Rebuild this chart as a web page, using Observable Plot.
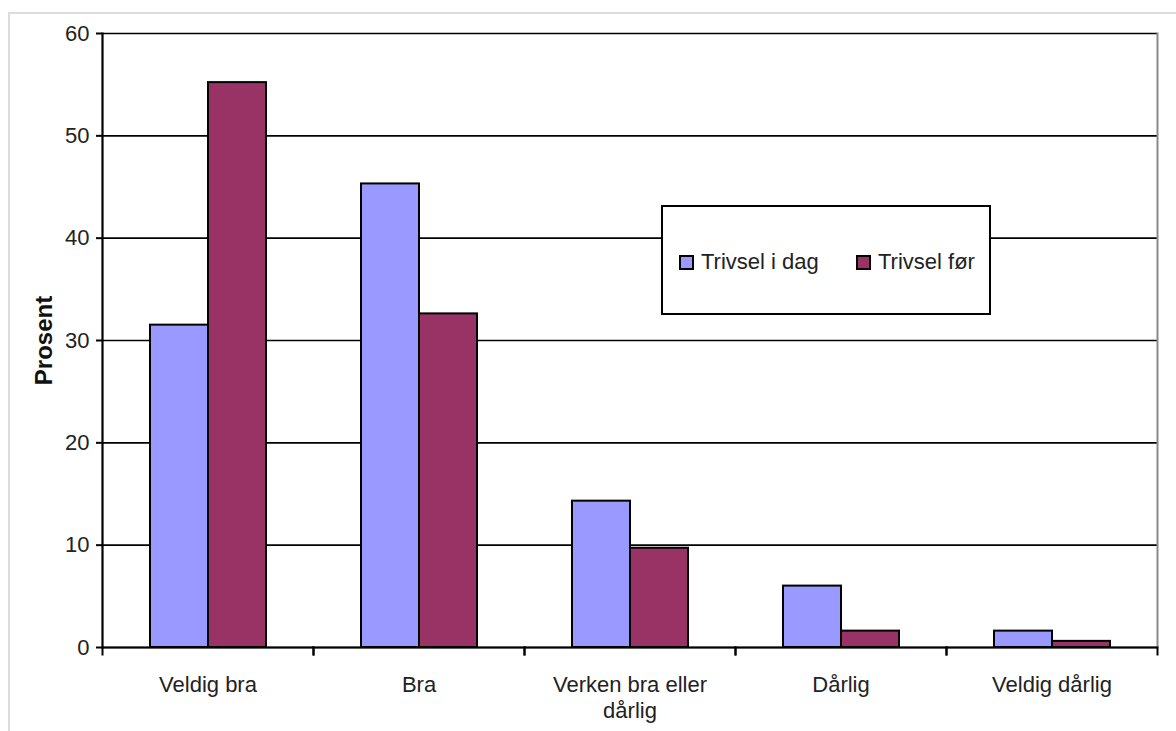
<!DOCTYPE html>
<html>
<head>
<meta charset="utf-8">
<script src="https://cdn.jsdelivr.net/npm/d3@7"></script>
<script src="https://cdn.jsdelivr.net/npm/@observablehq/plot@0.6"></script>
<style>
  html, body { margin: 0; padding: 0; background: #fff; }
  #wrap { position: relative; width: 1176px; height: 731px; overflow: hidden;
          font-family: "Liberation Sans", Arial, sans-serif; }
  #outer { position: absolute; left: 8px; top: 12px; width: 1300px; height: 900px; z-index: 5;
           pointer-events: none; border: 2px solid #dcdcdc; box-sizing: border-box; }
  #wrap svg { position: absolute; left: 0; top: 0; background: none; }
  g[aria-label="y-axis label"] text { font-weight: bold; font-size: 24px; fill: #111; }
  #legend { position: absolute; left: 661px; top: 205px; width: 330px; height: 110px; z-index: 4;
            border: 2px solid #000; box-sizing: border-box; background: #fff;
            font-size: 22px; color: #222; }
  .item { position: absolute; top: 42px; display: flex; align-items: center; white-space: nowrap; }
  .sw { width: 11px; height: 11px; border: 2px solid #000; margin-right: 7px; }
</style>
</head>
<body>
<div id="wrap">
  <div id="outer"></div>
  <div id="legend"></div>
</div>
<script>
const categories = ["Veldig bra", "Bra", "Verken bra eller dårlig", "Dårlig", "Veldig dårlig"];
const categoryLabels = ["Veldig bra", "Bra", "Verken bra eller\ndårlig", "Dårlig", "Veldig dårlig"];
const series = ["Trivsel i dag", "Trivsel før"];
const trivselIDag = [31.5, 45.3, 14.3, 6.0, 1.6];
const trivselFor = [55.2, 32.6, 9.7, 1.6, 0.6];
const seriesColors = ["#9999ff", "#993366"];
const yTicks = [0, 10, 20, 30, 40, 50, 60];
const yLabel = "Prosent";

const data = categories.flatMap((c, i) => [
  {cat: c, series: series[0], value: trivselIDag[i]},
  {cat: c, series: series[1], value: trivselFor[i]}
]);

const W = 1176, H = 731, mt = 33, mb = 84, ml = 101, mr = 19;
const plotH = H - mt - mb;
const font = "'Liberation Sans', Arial, sans-serif";

const chart = Plot.plot({
  width: W, height: H,
  marginTop: mt, marginBottom: mb, marginLeft: ml, marginRight: mr,
  style: {fontFamily: font, fontSize: "22px", color: "#222", background: "none"},
  fx: {domain: categories, padding: 0, label: null},
  x: {domain: series, paddingInner: 0, paddingOuter: 0.79, axis: null},
  y: {domain: [0, 60], label: null},
  color: {domain: series, range: seriesColors},
  marks: [
    Plot.gridY(yTicks, {stroke: "#000", strokeOpacity: 1, strokeWidth: 1.6}),
    Plot.frame({anchor: "right", facetAnchor: "right", stroke: "#8a8a8a", strokeWidth: 2}),
    Plot.barY(data, {fx: "cat", x: "series", y: "value", fill: "series", stroke: "#000", strokeWidth: 2}),
    Plot.ruleY([0], {stroke: "#000", strokeWidth: 2}),
    Plot.frame({anchor: "left", facetAnchor: "left", stroke: "#000", strokeWidth: 2.2}),
    Plot.frame({anchor: "left", insetTop: plotH, insetBottom: -7, stroke: "#000", strokeWidth: 2}),
    Plot.frame({anchor: "right", insetTop: plotH, insetBottom: -7, stroke: "#000", strokeWidth: 2}),
    Plot.axisY(yTicks, {tickSize: 6, tickPadding: 7, fontSize: 22, stroke: "#000", strokeWidth: 2,
      label: yLabel, labelArrow: "none", labelAnchor: "center", labelOffset: 68}),
    Plot.axisFx({anchor: "bottom", tickSize: 0, tickPadding: 27, fontSize: 22, lineHeight: 1.15, label: null,
      tickFormat: d => categoryLabels[categories.indexOf(d)]})
  ]
});
document.getElementById("wrap").appendChild(chart);

// legend (inside the plot area, as in the reference)
const legend = document.getElementById("legend");
const lefts = [16, 193];
series.forEach((s, i) => {
  const it = document.createElement("div");
  it.className = "item";
  it.style.left = lefts[i] + "px";
  const sw = document.createElement("div");
  sw.className = "sw";
  sw.style.background = seriesColors[i];
  const tx = document.createElement("span");
  tx.textContent = s;
  it.appendChild(sw); it.appendChild(tx);
  legend.appendChild(it);
});
</script>
</body>
</html>
